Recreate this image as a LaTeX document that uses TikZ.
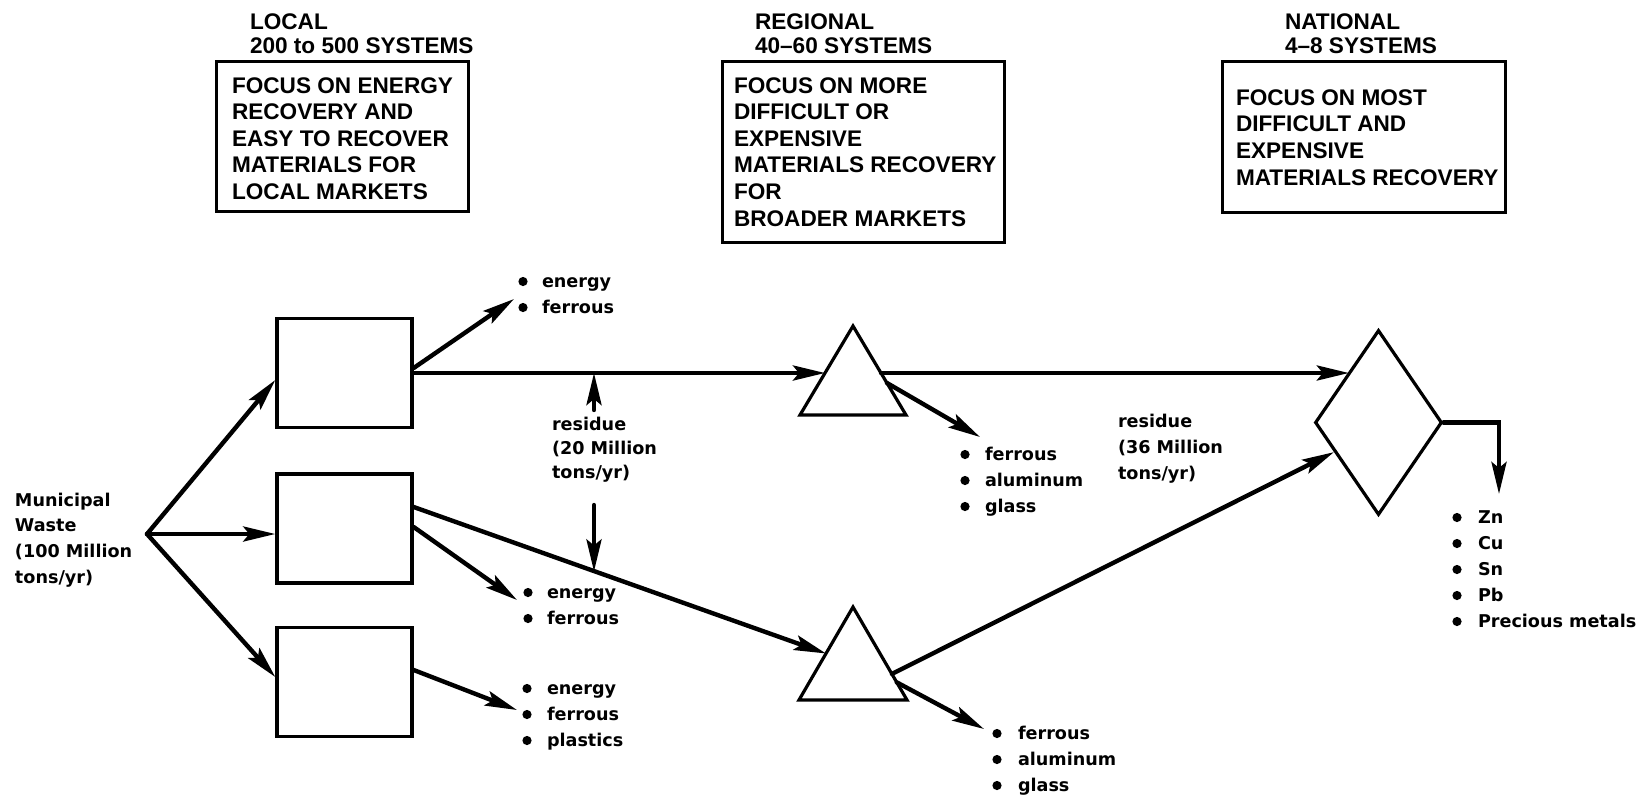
\documentclass[tikz,border=0pt]{standalone}
\usepackage{fontspec}
\setmainfont{Liberation Sans}
\newfontfamily\labfont{DejaVu Sans}
\usetikzlibrary{arrows.meta,calc,shapes.geometric}

% a column of text lines set on fixed baselines: name, x, first baseline, spacing, style, lines
\newcommand\textlines[6]{%
  \foreach \txt [count=\idx] in {#6} {%
    \pgfmathsetmacro\yb{#3+#4*(\idx-1)}%
    \node[#5] (#1-\idx) at (#2,\yb) {\txt};
  }%
}
% a bulleted list: name, bullet x, text x, first baseline, items
\newcommand\bulletlist[5]{%
  \foreach \txt [count=\idx] in {#5} {%
    \pgfmathsetmacro\yb{#4+26*(\idx-1)}%
    \fill (#2,\yb-5.5) circle[radius=2.3pt];
    \node[labline] (#1-\idx) at (#3,\yb) {\txt};
  }%
}

\begin{document}
\begin{tikzpicture}[x=0.5pt,y=-0.5pt,
  txtline/.style={inner sep=0pt, outer sep=0pt, anchor=base west},
  capsline/.style={txtline, font=\fontsize{11.3}{13}\selectfont\bfseries},
  labline/.style={txtline, font=\labfont\fontsize{8.8}{12}\selectfont\bfseries},
  focusbox/.style={draw, rectangle, line width=1.5pt, inner sep=0pt},
  unitbox/.style={draw, rectangle, line width=1.7pt, inner sep=0pt,
    minimum width=67.5pt, minimum height=54.5pt},
  shapeline/.style={line width=1.6pt, line join=miter},
  flowline/.style={line width=2.2pt, line cap=round, line join=miter},
  arr/.style={flowline, -{Stealth[length=16pt, width=7.5pt, inset=3pt]}}
]
\fill[white] (0,0) rectangle (1645,800);
\useasboundingbox (0,0) rectangle (1645,800);

% ---- level headings and focus boxes
\textlines{hloc}{250}{29}{24}{capsline}{LOCAL, 200 to 500 SYSTEMS}
\textlines{hreg}{755}{29}{24}{capsline}{REGIONAL, 40--60 SYSTEMS}
\textlines{hnat}{1285}{29}{24}{capsline}{NATIONAL, 4--8 SYSTEMS}

\node[focusbox, minimum width=126pt, minimum height=75pt] (locbox) at (342,136) {};
\node[focusbox, minimum width=141pt, minimum height=90.5pt] (regbox) at (863,151.5) {};
\node[focusbox, minimum width=141.5pt, minimum height=75.5pt] (natbox) at (1363.5,136.5) {};

\textlines{loc}{232}{93}{26.5}{capsline}{FOCUS ON ENERGY, RECOVERY AND, EASY TO RECOVER, MATERIALS FOR, LOCAL MARKETS}
\textlines{reg}{734}{93}{26.6}{capsline}{FOCUS ON MORE, DIFFICULT OR, EXPENSIVE, MATERIALS RECOVERY, FOR, BROADER MARKETS}
\textlines{nat}{1236}{105}{26.7}{capsline}{FOCUS ON MOST, DIFFICULT AND, EXPENSIVE, MATERIALS RECOVERY}

% ---- source
\textlines{src}{15}{506}{25.7}{labline}{Municipal, Waste, {(100 Million}, tons/yr)}
\coordinate (src) at (147,534);

% ---- local systems
\node[unitbox] (b1) at (344.5,373) {};
\node[unitbox] (b2) at (344.5,528.5) {};
\node[unitbox] (b3) at (344.5,682) {};

\draw[arr] (src) -- ($(b1.west)+(0,7)$);
\draw[arr] (src) -- (b2.west |- src);
\draw[arr] (src) -- ($(b3.west)+(0,-5)$);

% ---- regional systems (triangles)
\coordinate (t1a) at (853,326);
\coordinate (t1l) at (800,415);
\coordinate (t1r) at (906,415);
\coordinate (t2a) at (853,607);
\coordinate (t2l) at (799,700);
\coordinate (t2r) at (907,700);
\draw[shapeline] (t1a) -- (t1l) -- (t1r) -- cycle;
\draw[shapeline] (t2a) -- (t2l) -- (t2r) -- cycle;
\coordinate (t1in)  at ($(t1a)!0.528!(t1l)$);
\coordinate (t1out) at ($(t1a)!0.528!(t1r)$);
\coordinate (t1rec) at ($(t1a)!0.64!(t1r)$);
\coordinate (t2in)  at ($(t2a)!0.5!(t2l)$);
\coordinate (t2out) at ($(t2a)!0.72!(t2r)$);
\coordinate (t2rec) at ($(t2a)!0.81!(t2r)$);

% ---- national system (diamond)
\node[diamond, draw, shapeline, inner sep=0pt, minimum width=63.5pt, minimum height=92.5pt] (dia) at (1378.5,422.5) {};
\coordinate (din1) at ($(dia.west)!0.545!(dia.north)$);
\coordinate (din2) at ($(dia.west)!0.315!(dia.south)$);

% ---- recovered material flows
\coordinate (e1tip) at (514,299);
\coordinate (e2tip) at (517,600);
\coordinate (e3tip) at (517,710);
\coordinate (m1tip) at (980,437);
\coordinate (m2tip) at (984,729);
\coordinate (ztip)  at (1499,494);

\draw[arr] ($(b1.east)+(0,-5)$) -- (e1tip);
\draw[arr] ($(b2.east)+(0,-1.5)$) -- (e2tip);
\draw[arr] ($(b3.east)+(0,-12)$) -- (e3tip);
\draw[arr] (t1rec) -- (m1tip);
\draw[arr] (t2rec) -- (m2tip);
\draw[arr] (dia.east) -| (ztip);

% ---- residue flows
\draw[arr] (b1.east) -- (b1.east -| t1in);
\draw[arr] ($(b2.east)+(0,-21.5)$) -- coordinate[pos=0.44] (r20hit) (t2in);
\draw[arr] (t1out) -- (t1out -| din1);
\draw[arr] (t2out) -- (din2);

\coordinate (r20up) at (594,410);
\coordinate (r20dn) at (594,505);
\draw[arr] (r20up) -- (r20up |- b1.east);
\draw[arr] (r20dn) -- (r20dn |- r20hit);

\textlines{res20}{552}{430}{24}{labline}{residue, {(20 Million}, tons/yr)}
\textlines{res36}{1118}{427}{26}{labline}{residue, {(36 Million}, tons/yr)}

% ---- recovered products
\bulletlist{ub}{523}{542}{287}{energy, ferrous}
\bulletlist{mb}{528}{547}{598}{energy, ferrous}
\bulletlist{lb}{527}{547}{694}{energy, ferrous, plastics}
\bulletlist{tp}{965}{985}{460}{ferrous, aluminum, glass}
\bulletlist{bt}{997}{1018}{739}{ferrous, aluminum, glass}
\bulletlist{mt}{1457}{1478}{523}{Zn, Cu, Sn, Pb, Precious metals}
\end{tikzpicture}
\end{document}
